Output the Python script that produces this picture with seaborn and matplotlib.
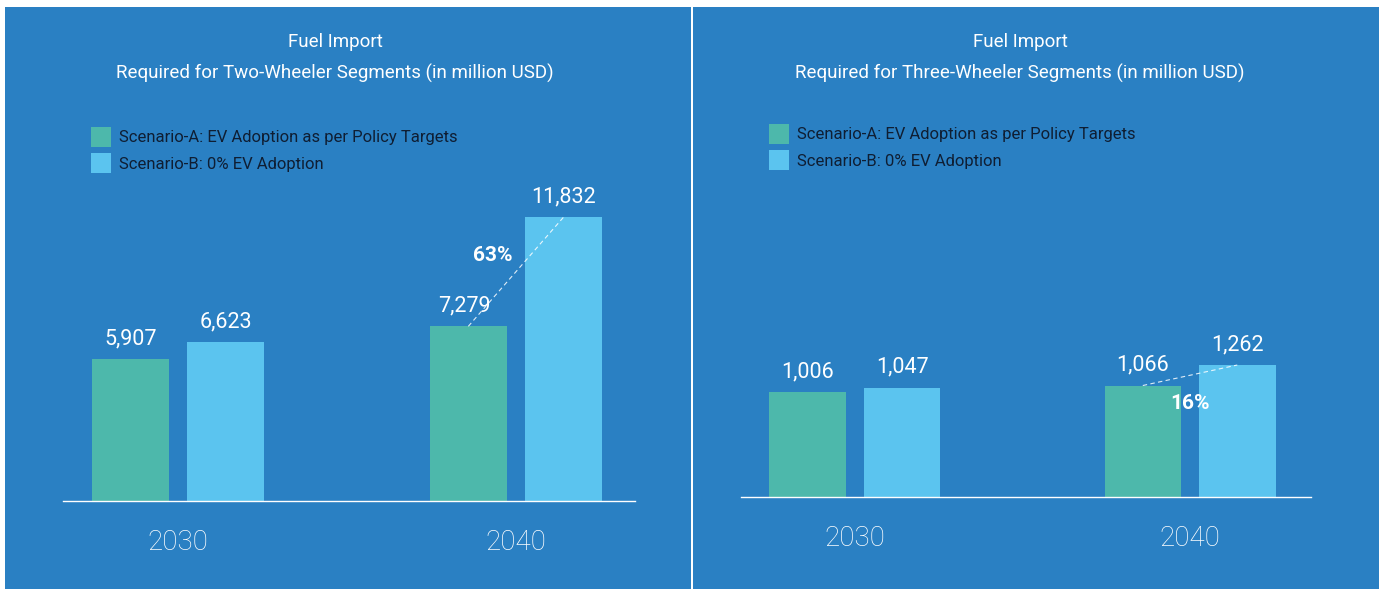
import matplotlib
matplotlib.use("Agg")
import matplotlib.pyplot as plt
import matplotlib.patches as patches
import pandas as pd
import seaborn as sns

# --- data ---
years = ["2030", "2040"]
scenarios = ["Scenario-A: EV Adoption as per Policy Targets", "Scenario-B: 0% EV Adoption"]
two_wheeler_a = [5907, 7279]
two_wheeler_b = [6623, 11832]
three_wheeler_a = [1006, 1066]
three_wheeler_b = [1047, 1262]
two_wheeler_pct = "63%"
three_wheeler_pct = "16%"
titles = ["Fuel Import\nRequired for Two-Wheeler Segments (in million USD)",
          "Fuel Import\nRequired for Three-Wheeler Segments (in million USD)"]

PANEL = "#2a80c3"
GREEN = "#4db8ab"
LIGHT = "#5bc4ef"
DARK_TXT = "#0f1e33"
FONT = ["Roboto", "DejaVu Sans"]

sns.set_theme(style="white")
plt.rcParams["font.family"] = FONT

W, H = 1384, 589
fig = plt.figure(figsize=(W / 100, H / 100), dpi=100)
fig.patch.set_facecolor("white")


def px_rect(x0, y0, x1, y1):
    # pixel box (top-left origin) -> figure fraction [l, b, w, h]
    return [x0 / W, 1 - y1 / H, (x1 - x0) / W, (y1 - y0) / H]


def make_df(a_vals, b_vals):
    rows = []
    for i, yr in enumerate(years):
        rows.append({"Year": yr, "Scenario": scenarios[0], "Value": a_vals[i]})
        rows.append({"Year": yr, "Scenario": scenarios[1], "Value": b_vals[i]})
    return pd.DataFrame(rows)


panels = [
    dict(bg=(5, 7, 691, 589), ax=(63, 150, 635, 501), xlim=(-0.34, 1.352), ymax=14625,
         a=two_wheeler_a, b=two_wheeler_b, pct=two_wheeler_pct, pct_off=(-17, 12),
         title_x=335, legend_at=(91, 127), label_dx=[(0, 0), (-3, 0)]),
    dict(bg=(693, 7, 1379, 589), ax=(741, 150, 1311, 497), xlim=(-0.34, 1.361), ymax=3318,
         a=three_wheeler_a, b=three_wheeler_b, pct=three_wheeler_pct, pct_off=(0, -20),
         title_x=1020, legend_at=(769, 124), label_dx=[(0, 0), (0, 0)]),
]

for idx, p in enumerate(panels):
    fig.patches.append(patches.Rectangle(
        (p["bg"][0] / W, 1 - p["bg"][3] / H),
        (p["bg"][2] - p["bg"][0]) / W, (p["bg"][3] - p["bg"][1]) / H,
        transform=fig.transFigure, facecolor=PANEL, edgecolor="none", zorder=-5))

    ax = fig.add_axes(px_rect(*p["ax"]))
    ax.set_facecolor("none")
    df = make_df(p["a"], p["b"])
    sns.barplot(data=df, x="Year", y="Value", hue="Scenario", hue_order=scenarios,
                palette=[GREEN, LIGHT], width=0.564, gap=0.19, saturation=1,
                edgecolor="none", ax=ax, legend=False)

    ax.set_xlim(*p["xlim"])
    ax.set_ylim(0, p["ymax"])
    ax.set_xlabel("")
    ax.set_ylabel("")
    ax.set_yticks([])
    for s in ["top", "left", "right"]:
        ax.spines[s].set_visible(False)
    ax.spines["bottom"].set_color("white")
    ax.spines["bottom"].set_linewidth(1.0)
    ax.tick_params(axis="x", length=0, pad=20, labelsize=20, labelcolor="white")
    for t in ax.get_xticklabels():
        t.set_fontweight("light")

    # value labels
    centers = {}
    for ci, cont in enumerate(ax.containers):
        for bi, bar in enumerate(cont):
            val = bar.get_height()
            cx = bar.get_x() + bar.get_width() / 2
            centers[(ci, bi)] = (cx, val)
            dx = p["label_dx"][bi][0] if ci == 0 else 0
            ax.annotate(f"{int(val):,}", (cx, val), xytext=(dx, 7), textcoords="offset points",
                        ha="center", va="bottom", color="white", fontsize=15.5)

    # dashed connector and percentage for 2040
    (x0, y0), (x1, y1) = centers[(0, 1)], centers[(1, 1)]
    ax.plot([x0, x1], [y0, y1], color="white", lw=0.8, ls=(0, (4, 3)), alpha=0.85)
    ax.annotate(p["pct"], ((x0 + x1) / 2, (y0 + y1) / 2), xytext=p["pct_off"],
                textcoords="offset points", ha="center", va="center",
                color="white", fontsize=15, fontweight="bold")

    # title
    l1, l2 = titles[idx].split("\n")
    fig.text(p["title_x"] / W, 1 - 42 / H, l1, ha="center", va="center",
             color="white", fontsize=13.5)
    fig.text(p["title_x"] / W, 1 - 73 / H, l2, ha="center", va="center",
             color="white", fontsize=13.5)

    # legend
    handles = [patches.Patch(facecolor=c, edgecolor="none", label=s)
               for c, s in zip([GREEN, LIGHT], scenarios)]
    lx, ly = p["legend_at"]
    leg = ax.legend(handles=handles, loc="upper left",
                    bbox_to_anchor=(lx / W, 1 - ly / H), bbox_transform=fig.transFigure,
                    frameon=False, fontsize=12, handlelength=1.2, handleheight=1.45,
                    labelspacing=0.4, handletextpad=0.5, borderpad=0, borderaxespad=0)
    for t in leg.get_texts():
        t.set_color(DARK_TXT)

fig.savefig("out.png", dpi=100, facecolor=fig.get_facecolor())
